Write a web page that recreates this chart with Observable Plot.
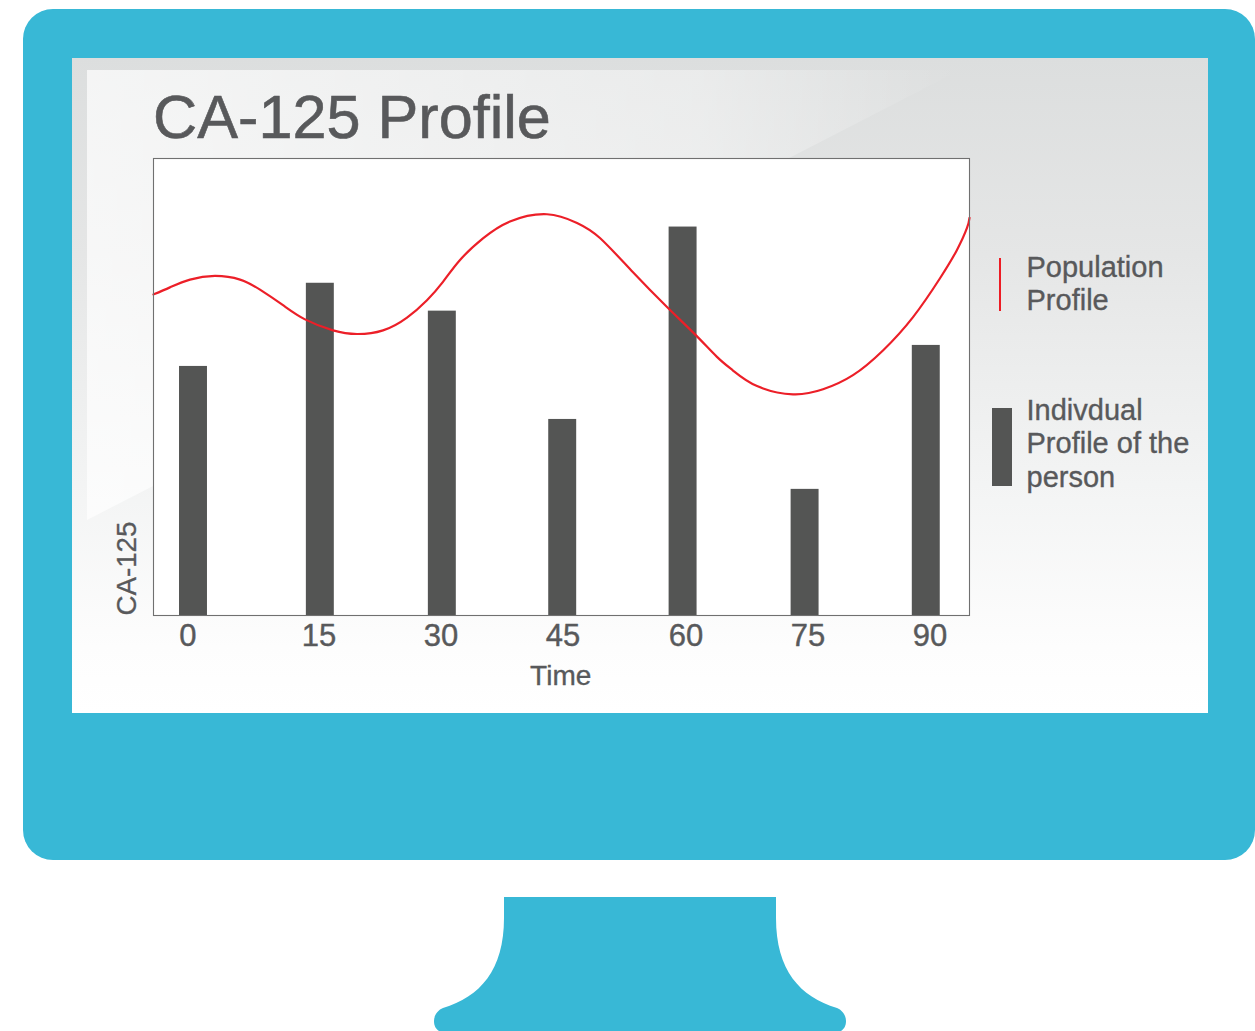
<!DOCTYPE html>
<html>
<head>
<meta charset="utf-8">
<script src="https://cdn.jsdelivr.net/npm/d3@7"></script>
<script src="https://cdn.jsdelivr.net/npm/@observablehq/plot@0.6"></script>
<style>
  html, body { margin: 0; padding: 0; background: #fff; }
  #stage { position: relative; width: 1255px; height: 1031px; overflow: hidden; font-family: "Liberation Sans", Arial, sans-serif; color: #58595b; }
  #monitor, #chart { position: absolute; left: 0; top: 0; }
  .t { position: absolute; white-space: nowrap; margin: 0; font-weight: normal; }
  .legend { font-size: 29px; line-height: 33.4px; -webkit-text-stroke: 0.35px #58595b; }
</style>
</head>
<body>
<div id="stage">
  <svg id="monitor" width="1255" height="1031" viewBox="0 0 1255 1031">
    <defs>
      <linearGradient id="screen" x1="0" y1="0" x2="0" y2="1">
        <stop offset="0" stop-color="#dcdede"/>
        <stop offset="0.3" stop-color="#e5e6e6"/>
        <stop offset="0.65" stop-color="#f3f4f4"/>
        <stop offset="0.9" stop-color="#fdfdfd"/>
        <stop offset="1" stop-color="#ffffff"/>
      </linearGradient>
      <linearGradient id="glare" gradientUnits="userSpaceOnUse" x1="87" y1="0" x2="960" y2="0">
        <stop offset="0" stop-color="#ffffff" stop-opacity="0.7"/>
        <stop offset="0.7" stop-color="#ffffff" stop-opacity="0.4"/>
        <stop offset="1" stop-color="#ffffff" stop-opacity="0"/>
      </linearGradient>
    </defs>
    <rect x="23" y="9" width="1232" height="851" rx="30" fill="#38b8d6"/>
    <rect x="72" y="58" width="1136" height="655" fill="url(#screen)"/>
    <polygon points="87,70 960,70 87,520" fill="url(#glare)"/>
    <path d="M504,897 H776 V918 C776,970 800,997 837,1008 C842,1010 846,1015 846,1021 C846,1026 844,1029 841,1031 H439 C436,1029 434,1026 434,1021 C434,1015 438,1010 443,1008 C480,997 504,970 504,918 Z" fill="#38b8d6"/>
  </svg>
  <div id="chart"></div>
  <h1 class="t" style="left:153px; top:82px; font-size:61.2px; line-height:70px; -webkit-text-stroke:0.6px #58595b;">CA-125 Profile</h1>
  <div class="t legend" style="left:1026.5px; top:251px;">Population<br>Profile</div>
  <div style="position:absolute; left:999px; top:258px; width:2px; height:53px; background:#ed1c24;"></div>
  <div class="t legend" style="left:1026.5px; top:394px;">Indivdual<br>Profile of the<br>person</div>
  <div style="position:absolute; left:992px; top:408px; width:20px; height:78px; background:#545554;"></div>
</div>
<script>
// Bars: individual profile, values in plot units
const barTimes = [-0.65, 15.05, 30.15, 45.05, 59.95, 75.05, 90.05];
const barValues = [54.5, 72.7, 66.6, 42.9, 85, 27.6, 59.1];
const barHalfWidth = 1.73;

// Red curve: population profile
const curveTimes = [-5.6, -3.56, -1.08, 2.01, 5.11, 7.58, 10.43, 13.15, 16.62, 19.59, 22.81, 25.78, 28.25, 30.23, 32.34, 35.18, 38.52, 43.1, 46.82, 49.66, 53.75, 57.96, 61.55, 64.14, 66.13, 69.1, 73.55, 77.27, 80.98, 84.69, 88.41, 91.75, 93.85, 95.09, 95.4];
const curveValues = [70.25, 71.8, 73.5, 74.3, 73.5, 71.3, 67.9, 64.8, 62.4, 61.6, 62.4, 65.2, 69, 73, 77.8, 82.5, 86.2, 87.8, 85.9, 82.6, 75.1, 67.5, 61.3, 56.6, 53.6, 50.2, 48.4, 49.5, 52.6, 58, 65.3, 73.8, 80, 84.8, 87];

// Tick labels and where they sit on the time scale
const tickLabels = ["0", "15", "30", "45", "60", "75", "90"];
const tickPlaces = [-1.33, 14.88, 29.98, 45.08, 60.3, 75.4, 90.5];

const bars = barTimes.map((t, i) => ({t, v: barValues[i]}));
const curve = curveTimes.map((t, i) => ({t, v: curveValues[i]}));
const ticks = tickLabels.map((label, i) => ({label, t: tickPlaces[i]}));

const chart = Plot.plot({
  width: 1255,
  height: 1031,
  marginLeft: 153,
  marginRight: 286,
  marginTop: 158,
  marginBottom: 416,
  style: {background: "transparent", fontFamily: "'Liberation Sans', Arial, sans-serif", overflow: "visible"},
  x: {domain: [-5.6, 95.4], axis: null},
  y: {domain: [0, 100], axis: null},
  marks: [
    Plot.rect([0], {x1: () => -5.6, x2: () => 95.4, y1: () => 0, y2: () => 100, fill: "#ffffff"}),
    Plot.rectY(bars, {x1: d => d.t - barHalfWidth, x2: d => d.t + barHalfWidth, y1: 0, y2: "v", fill: "#545554"}),
    Plot.line(curve, {x: "t", y: "v", stroke: "#ec1f28", strokeWidth: 2.2, curve: "natural"}),
    Plot.frame({stroke: "#707070", strokeWidth: 1.1}),
    Plot.text(ticks, {x: "t", y: () => 0, text: "label", dy: 21, fontSize: 31, fill: "#58595b", stroke: "#58595b", strokeWidth: 0.4}),
    Plot.text(["Time"], {x: () => 44.8, y: () => 0, text: d => d, dy: 61, fontSize: 28, fill: "#58595b", stroke: "#58595b", strokeWidth: 0.35}),
    Plot.text(["CA-125"], {x: () => -8.9, y: () => 0, text: d => d, rotate: -90, textAnchor: "start", fontSize: 27.7, fill: "#58595b", stroke: "#58595b", strokeWidth: 0.3})
  ]
});
document.getElementById("chart").appendChild(chart);
</script>
</body>
</html>
